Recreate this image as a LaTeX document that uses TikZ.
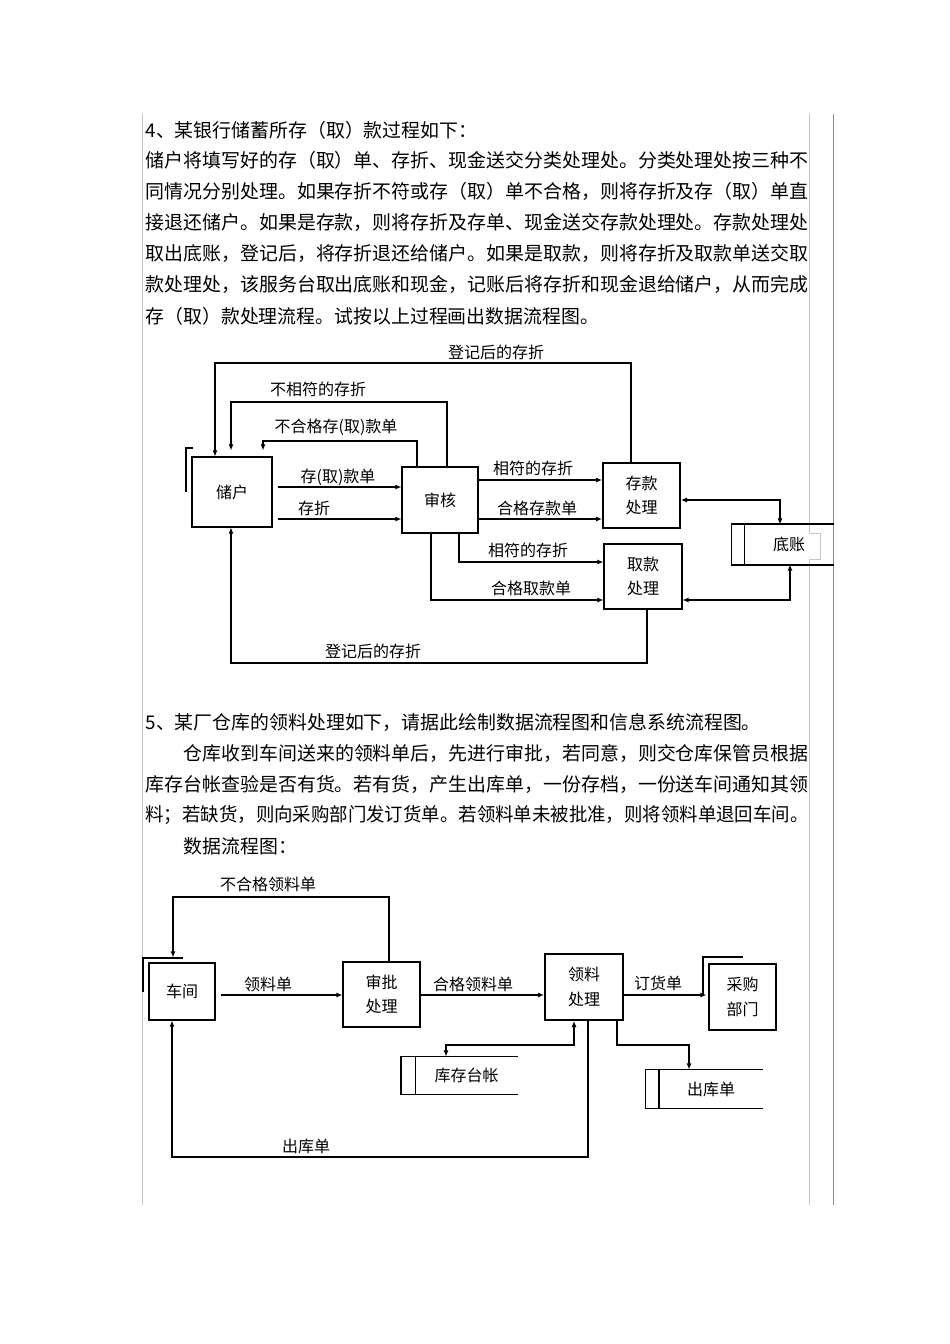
\documentclass[tikz,border=0pt]{standalone}
\usepackage{fontspec}
\setmainfont{Noto Sans CJK SC}
\usetikzlibrary{arrows.meta}
\XeTeXlinebreaklocale "zh"
\XeTeXlinebreakskip = 0pt plus 1pt minus 1pt
\newcommand{\fullline}[1]{\resizebox{663pt}{\height}{#1}}

\begin{document}
\begin{tikzpicture}[x=1pt, y=-1pt, line width=1.1pt, >={Latex[length=6pt,width=5pt]},
	body/.style={anchor=west, inner sep=0pt, font=\fontsize{18.9}{22}\selectfont},
	lbl/.style={inner sep=0pt, font=\fontsize{16}{20}\selectfont},
	proc/.style={draw, inner sep=0pt, align=center, font=\fontsize{16}{24.5}\selectfont},
	store/.style={inner sep=0pt, font=\fontsize{16}{20}\selectfont},
	page/.style={draw=black!22, line width=0.8pt}]
	\fill[white] (0,0) rectangle (950,1344);
	\useasboundingbox (0,0) rectangle (950,1344);
	\draw[page] (142,114) -- (142,1205);
	\draw[page] (809,114) -- (809,533) -- (820,533) -- (820,559) -- (809,559) -- (809,1205);
	\draw[draw=black!45, line width=0.9pt] (833,114) -- (833,1205);

	\node[body] (p1) at (145,130) {4、某银行储蓄所存（取）款过程如下：};
	\node[body] (p2) at (145,160) {\fullline{储户将填写好的存（取）单、存折、现金送交分类处理处。分类处理处按三种不}};
	\node[body] (p3) at (145,191) {\fullline{同情况分别处理。如果存折不符或存（取）单不合格，则将存折及存（取）单直}};
	\node[body] (p4) at (145,222) {\fullline{接退还储户。如果是存款，则将存折及存单、现金送交存款处理处。存款处理处}};
	\node[body] (p5) at (145,253) {\fullline{取出底账，登记后，将存折退还给储户。如果是取款，则将存折及取款单送交取}};
	\node[body] (p6) at (145,284) {\fullline{款处理处，该服务台取出底账和现金，记账后将存折和现金退给储户，从而完成}};
	\node[body] (p7) at (145,316) {存（取）款处理流程。试按以上过程画出数据流程图。};

	\node[proc, minimum width=80pt, minimum height=70pt] (depositor) at (232,492) {储户};
	\node[proc, minimum width=76pt, minimum height=66pt] (check) at (440,500) {审核};
	\node[proc, line width=2pt, minimum width=77pt, minimum height=65pt] (deposit) at (641.5,495.5) {存款\\处理};
	\node[proc, minimum width=78pt, minimum height=65pt] (withdraw) at (643,576.5) {取款\\处理};
	\node[store, minimum width=88pt, minimum height=39pt] (ledger) at (789,544.5) {底账};
	\draw[line width=2pt] (ledger.north east) -- ([xshift=-13pt]ledger.north west);
	\draw[line width=2pt] (ledger.south east) -- ([xshift=-13pt]ledger.south west);
	\draw ([xshift=-13pt]ledger.north west) -- ([xshift=-13pt]ledger.south west);
	\draw (ledger.north west) -- (ledger.south west);
	\draw (186,492) -- (186,448) -- (193,448);

	\draw[->] (depositor.east |- 0,487) ++(5,0) -- (check.west |- 0,487);
	\draw[->] (depositor.east |- 0,519) ++(5,0) -- (check.west |- 0,519);
	\draw[->] (check.east |- 0,480) -- (deposit.west |- 0,480);
	\draw[->] (check.east |- 0,519) -- (deposit.west |- 0,519);
	\draw[->] (check.south -| 459,0) |- (withdraw.west |- 0,562);
	\draw[->] (check.south -| 431,0) |- (withdraw.west |- 0,600);
	\draw[<->] (deposit.east |- 0,500) -| (ledger.north -| 780,0);
	\draw[<->] (withdraw.east |- 0,600) -| (ledger.south -| 790,0);
	\draw[->, line width=2pt] (deposit.north -| 631,0) |- (215,363) -- (depositor.north -| 215,0);
	\draw[->, shorten >=6pt] (check.north -| 447,0) |- (231,402) -- (depositor.north -| 231,0);
	\draw[->, shorten >=6pt] (check.north -| 417,0) |- (263,441) -- (depositor.north -| 263,0);
	\draw[->] (withdraw.south -| 647,0) |- (231,663) -- (depositor.south -| 231,0);

	\node[lbl] (l1) at (338,477) {存(取)款单};
	\node[lbl] (l2) at (314,508) {存折};
	\node[lbl] (l3) at (533,468) {相符的存折};
	\node[lbl] (l4) at (537,508) {合格存款单};
	\node[lbl] (l5) at (528,550) {相符的存折};
	\node[lbl] (l6) at (531,588) {合格取款单};
	\node[lbl] (l7) at (496,352) {登记后的存折};
	\node[lbl] (l8) at (318,389) {不相符的存折};
	\node[lbl] (l9) at (336,427) {不合格存(取)款单};
	\node[lbl] (l10) at (373,651) {登记后的存折};

	\node[body] (q1) at (145,722) {5、某厂仓库的领料处理如下，请据此绘制数据流程图和信息系统流程图。};
	\node[body] (q2) at (183,753) {\resizebox{625pt}{\height}{仓库收到车间送来的领料单后，先进行审批，若同意，则交仓库保管员根据}};
	\node[body] (q3) at (145,784) {\fullline{库存台帐查验是否有货。若有货，产生出库单，一份存档，一份送车间通知其领}};
	\node[body] (q4) at (145,815) {\fullline{料；若缺货，则向采购部门发订货单。若领料单未被批准，则将领料单退回车间。}};
	\node[body] (q5) at (183,846) {数据流程图：};

	\node[proc, minimum width=66pt, minimum height=57pt] (workshop) at (182,991.5) {车间};
	\node[proc, minimum width=77pt, minimum height=65pt] (approve) at (381.5,994.5) {审批\\处理};
	\node[proc, line width=2pt, minimum width=78pt, minimum height=66pt] (issue) at (584,987) {领料\\处理};
	\node[proc, minimum width=67pt, minimum height=66pt] (purchase) at (742.5,997) {采购\\部门};
	\node[store, minimum width=101pt, minimum height=37pt] (stock) at (466.5,1075.5) {库存台帐};
	\draw (stock.north east) -- ([xshift=-14pt]stock.north west);
	\draw (stock.south east) -- ([xshift=-14pt]stock.south west);
	\draw[line width=2pt] ([xshift=-14pt]stock.north west) -- ([xshift=-14pt]stock.south west);
	\draw (stock.north west) -- (stock.south west);
	\node[store, minimum width=102pt, minimum height=38pt] (outbill) at (711,1089) {出库单};
	\draw (outbill.north east) -- ([xshift=-14pt]outbill.north west);
	\draw (outbill.south east) -- ([xshift=-14pt]outbill.south west);
	\draw ([xshift=-14pt]outbill.north west) -- ([xshift=-14pt]outbill.south west);
	\draw[line width=2pt] (outbill.north west) -- (outbill.south west);
	\draw (143,992) -- (143,958) -- (183,958);
	\draw (703,995) -- (703,957) -- (743,957);

	\draw[->] (workshop.east |- 0,995) ++(5,0) -- (approve.west |- 0,995);
	\draw[->] (approve.east |- 0,995) -- (issue.west |- 0,995);
	\draw[->, shorten >=2pt] (issue.east |- 0,995) -- (purchase.west |- 0,995);
	\draw[->, shorten >=5pt] (approve.north -| 389,0) |- (173,897) -- (workshop.north -| 173,0);
	\draw[<->] (stock.north -| 446,0) |- (574,1045) -- (issue.south -| 574,0);
	\draw[->] (issue.south -| 617,0) |- (689,1045) -- (outbill.north -| 689,0);
	\draw[->] (issue.south -| 588,0) |- (172,1157) -- (workshop.south -| 172,0);

	\node[lbl] (m1) at (268,884) {不合格领料单};
	\node[lbl] (m2) at (268,984) {领料单};
	\node[lbl] (m3) at (473,984) {合格领料单};
	\node[lbl] (m4) at (658,983) {订货单};
	\node[lbl] (m5) at (306,1146) {出库单};
\end{tikzpicture}
\end{document}
